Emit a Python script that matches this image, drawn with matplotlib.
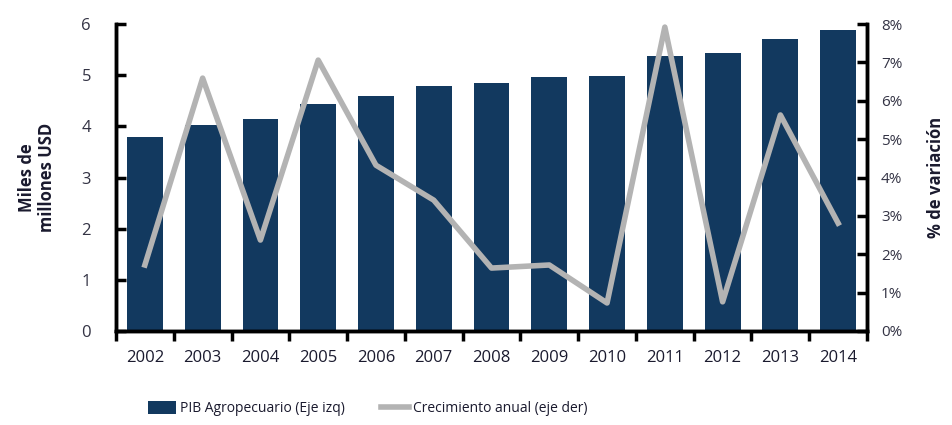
import matplotlib.pyplot as plt
import numpy as np
from matplotlib.ticker import PercentFormatter

# Datos
years = ['2002', '2003', '2004', '2005', '2006', '2007', '2008',
         '2009', '2010', '2011', '2012', '2013', '2014']
pib_agro = [3.79, 4.02, 4.14, 4.43, 4.59, 4.78, 4.85, 4.96, 4.98, 5.37, 5.43, 5.70, 5.88]
crecimiento = [1.72, 6.59, 2.37, 7.06, 4.32, 3.41, 1.64, 1.72, 0.73, 7.92, 0.76, 5.63, 2.81]

bar_color = '#12395f'
line_color = '#b3b3b3'
text_color = '#1a1a2e'

plt.rcParams['font.family'] = ['Open Sans', 'DejaVu Sans']

fig = plt.figure(figsize=(9.53, 4.25), dpi=100)
ax = fig.add_axes([0.1217, 0.2212, 0.7881, 0.7223])
x = np.arange(len(years))

bars = ax.bar(x, pib_agro, width=0.62, color=bar_color, label='PIB Agropecuario (Eje izq)')
ax.set_xlim(-0.5, len(years) - 0.5)
ax.set_ylim(0, 6)
ax.set_yticks(range(0, 7))

ax2 = ax.twinx()
line, = ax2.plot(x, crecimiento, color=line_color, linewidth=4,
                 label='Crecimiento anual (eje der)')
ax2.set_ylim(0, 8)
ax2.set_yticks(range(0, 9))
ax2.yaxis.set_major_formatter(PercentFormatter(decimals=0))

# ejes y ticks
for a in (ax, ax2):
    a.spines['top'].set_visible(False)
    for s in ('left', 'right', 'bottom'):
        a.spines[s].set_linewidth(2.5)
        a.spines[s].set_color('black')
ax.set_xticks(x)
ax.set_xticklabels(years)
ax.set_xticks(np.arange(-0.5, len(years)), minor=True)
ax.tick_params(axis='x', which='major', length=0, pad=14, labelsize=12, labelcolor=text_color)
ax.tick_params(axis='x', which='minor', length=7, width=2.5, direction='out')
ax.tick_params(axis='y', direction='in', length=7, width=2.5, pad=18, labelsize=12,
               labelcolor='#333344')
ax2.tick_params(axis='y', direction='in', length=7, width=2.5, pad=10, labelsize=11,
                labelcolor='#333344')

ax.set_ylabel('Miles de\nmillones USD', fontsize=12, fontweight='bold', labelpad=18,
              color=text_color)
ax2.set_ylabel('% de variación', fontsize=12, fontweight='bold', labelpad=18,
               color=text_color)

fig.legend(handles=[bars, line], loc='center left', bbox_to_anchor=(0.142, 0.038),
           ncol=2, frameon=False, fontsize=10, handlelength=2.0, handletextpad=0.3,
           columnspacing=2.6, handleheight=1.0, labelcolor=text_color)

fig.savefig('out.png', dpi=100)
